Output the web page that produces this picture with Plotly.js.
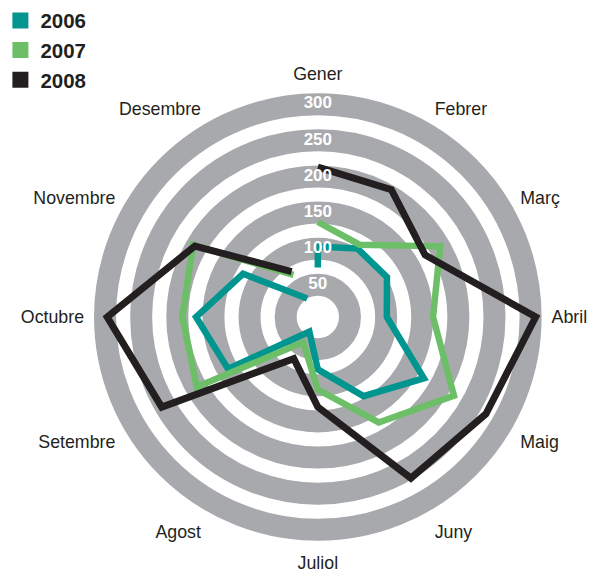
<!DOCTYPE html>
<html>
<head>
<meta charset="utf-8">
<script src="https://cdn.plot.ly/plotly-3.0.1.min.js"></script>
<style>
  html, body { margin: 0; padding: 0; background: #ffffff; }
  #chart { width: 596px; height: 573px; }
</style>
</head>
<body>
<div id="chart"></div>
<script>
// Categories (months, Catalan)
const months = ["Gener", "Febrer", "Març", "Abril", "Maig", "Juny", "Juliol",
                "Agost", "Setembre", "Octubre", "Novembre", "Desembre"];

// Series 2006 (the line starts with a short extra segment at Gener)
const theta2006 = ["Gener", "Gener", "Febrer", "Març", "Abril", "Maig", "Juny",
                   "Juliol", "Agost", "Setembre", "Octubre", "Novembre", "Desembre"];
const values2006 = [74, 103, 115, 116, 101, 175, 132, 78, 29, 149, 174, 125, 35];

// Series 2007
const values2007 = [137, 121, 201, 165, 223, 174, 106, 46, 199, 193, 205, 73];

// Series 2008
const values2008 = [213, 209, 177, 307, 274, 263, 130, 72, 255, 297, 202, 78];

// Radial tick values / labels
const radialTicks = [50, 100, 150, 200, 250, 300];
const radialTickLabels = ["50", "100", "150", "200", "250", "300"];

const seriesNames = ["2006", "2007", "2008"];
const seriesColors = ["#00968f", "#6dbf67", "#231f20"];

const FONT = "'Liberation Sans', Arial, Helvetica, sans-serif";

const traces = [];

// Legend-only entries (square swatches)
seriesNames.forEach((name, i) => {
  traces.push({
    type: "scatterpolar",
    r: [null], theta: [null],
    mode: "markers",
    name: name,
    legendgroup: "g" + i,
    marker: { symbol: "square", size: 16, color: seriesColors[i] },
    hoverinfo: "skip",
    showlegend: true
  });
});

// Data lines
traces.push({
  type: "scatterpolar", mode: "lines", name: "2006", showlegend: false,
  theta: theta2006, r: values2006,
  line: { color: seriesColors[0], width: 6.5 }
});
traces.push({
  type: "scatterpolar", mode: "lines", name: "2007", showlegend: false,
  theta: months, r: values2007,
  line: { color: seriesColors[1], width: 6.5 }
});
traces.push({
  type: "scatterpolar", mode: "lines", name: "2008", showlegend: false,
  theta: months, r: values2008,
  line: { color: seriesColors[2], width: 7 }
});

// Radial tick labels (white, centred on the grey rings)
traces.push({
  type: "scatterpolar", mode: "text", showlegend: false, hoverinfo: "skip",
  theta: radialTicks.map(() => months[0]),
  r: radialTicks,
  text: radialTickLabels,
  textposition: "middle center",
  textfont: { family: FONT, size: 17, color: "#ffffff", weight: "bold" },
  cliponaxis: false
});

const layout = {
  width: 596,
  height: 573,
  margin: { l: 0, r: 0, t: 0, b: 0 },
  paper_bgcolor: "#ffffff",
  showlegend: true,
  legend: {
    x: -0.0095, y: 0.999, xanchor: "left", yanchor: "top",
    font: { family: FONT, size: 20.5, color: "#231f20", weight: "bold" },
    bgcolor: "rgba(0,0,0,0)",
    tracegroupgap: 0
  },
  polar: {
    domain: { x: [0.14765, 0.90940], y: [0.05061, 0.84293] },
    bgcolor: "#ffffff",
    radialaxis: {
      range: [5.5, 316.5],
      tickvals: radialTicks,
      showticklabels: false,
      ticks: "",
      showline: false,
      showgrid: true,
      gridcolor: "#a7a9ac",
      gridwidth: 22,
      angle: 90
    },
    angularaxis: {
      type: "category",
      categoryorder: "array",
      categoryarray: months,
      direction: "clockwise",
      rotation: 90,
      showgrid: false,
      showline: false,
      ticks: "outside",
      ticklen: 5,
      tickcolor: "rgba(0,0,0,0)",
      tickfont: { family: FONT, size: 17.8, color: "#231f20" }
    }
  }
};

Plotly.newPlot("chart", traces, layout, { displayModeBar: false, staticPlot: true });
</script>
</body>
</html>
